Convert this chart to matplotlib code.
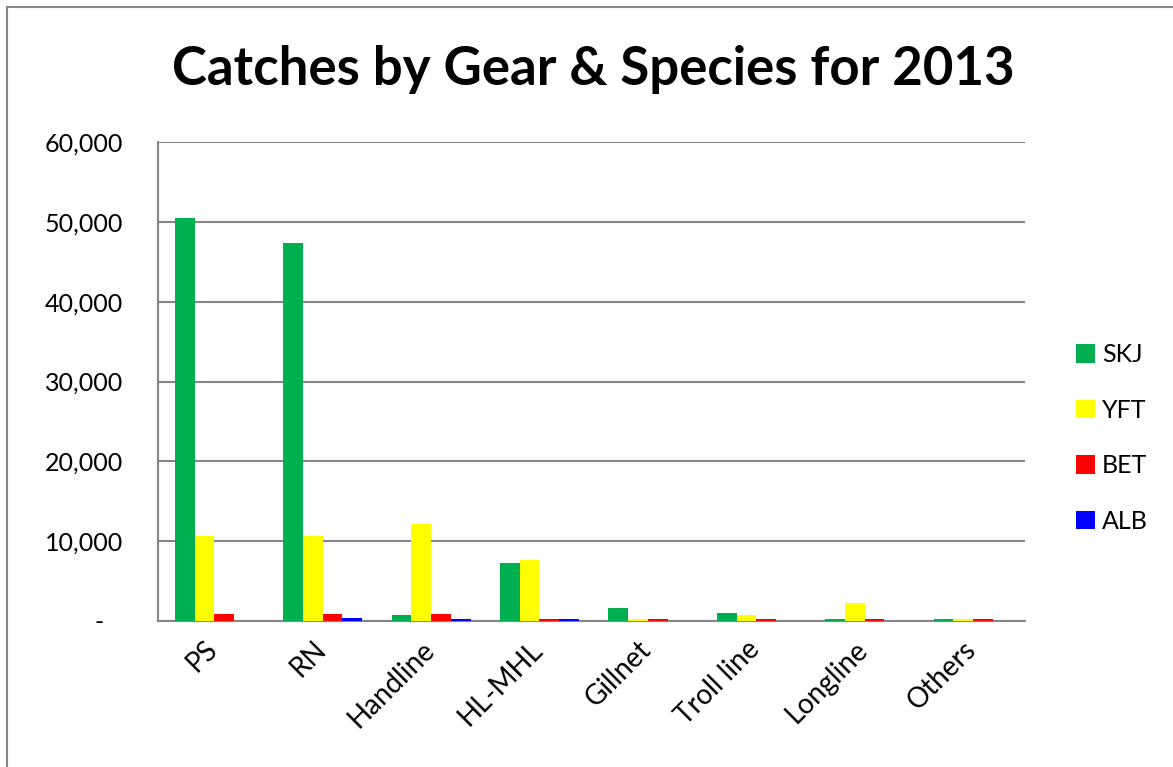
import matplotlib
matplotlib.use("Agg")
import matplotlib.pyplot as plt
import matplotlib.transforms as mtransforms
import numpy as np
from matplotlib.patches import Rectangle
from matplotlib.ticker import FuncFormatter

plt.rcParams['font.family'] = ['Lato', 'DejaVu Sans']

gears = ["PS", "RN", "Handline", "HL-MHL", "Gillnet", "Troll line", "Longline", "Others"]
species = ["SKJ", "YFT", "BET", "ALB"]
skj = [50500, 47300, 800, 7300, 1570, 1030, 250, 250]
yft = [10650, 10600, 12100, 7700, 200, 780, 2230, 200]
bet = [830, 830, 830, 250, 300, 300, 300, 300]
alb = [0, 330, 300, 250, 0, 0, 0, 0]
colors = ["#00B050", "#FFFF00", "#FF0000", "#0000FF"]

fig = plt.figure(figsize=(11.73, 7.67), dpi=100)
ax = fig.add_axes([158 / 1173, 1 - 621 / 767, 867 / 1173, 479 / 767])

x = np.arange(len(gears))
width = 1 / 5.5
series = [skj, yft, bet, alb]
for i, (name, vals, c) in enumerate(zip(species, series, colors)):
    ax.bar(x + (i - 1.5) * width + 0.02, vals, width, color=c, label=name, zorder=3)

ax.set_xlim(-0.5, len(gears) - 0.5)
ax.set_ylim(0, 60000)
ax.set_yticks(np.arange(0, 60001, 10000))
ax.yaxis.set_major_formatter(FuncFormatter(lambda v, p: "-   " if v == 0 else f"{int(v):,}"))
ax.grid(axis="y", color="#868686", linewidth=1.5, zorder=0)
for s in ["top", "right"]:
    ax.spines[s].set_visible(False)
for s in ["left", "bottom"]:
    ax.spines[s].set_color("#868686")
    ax.spines[s].set_linewidth(1.5)
ax.tick_params(axis="y", length=0, labelsize=18, pad=25, colors="#000000")
ax.tick_params(axis="x", length=0, labelsize=20, pad=11)
ax.set_xticks(x)
ax.set_xticklabels(gears, rotation=45, ha="right", va="top", rotation_mode="anchor")
shift = mtransforms.ScaledTranslation(-8 / 100, 0, fig.dpi_scale_trans)
for lbl in ax.get_xticklabels():
    lbl.set_transform(lbl.get_transform() + shift)

fig.text(593 / 1173, 1 - 70 / 767, "Catches by Gear & Species for 2013",
         ha="center", va="center", fontsize=38, fontweight="bold")

fig.legend(loc="center left", bbox_to_anchor=(1076 / 1173, 1 - 438 / 767),
           bbox_transform=fig.transFigure, frameon=False, borderpad=0,
           borderaxespad=0, fontsize=18, handlelength=0.75, handleheight=0.75,
           handletextpad=0.3, labelspacing=1.3)

fig.patches.append(Rectangle((7 / 1173, -0.1), 1.2, (1 - 7 / 767) + 0.1,
                             transform=fig.transFigure, fill=False,
                             edgecolor="#868686", linewidth=1.5))

fig.savefig("out.png", dpi=100, facecolor="white")
